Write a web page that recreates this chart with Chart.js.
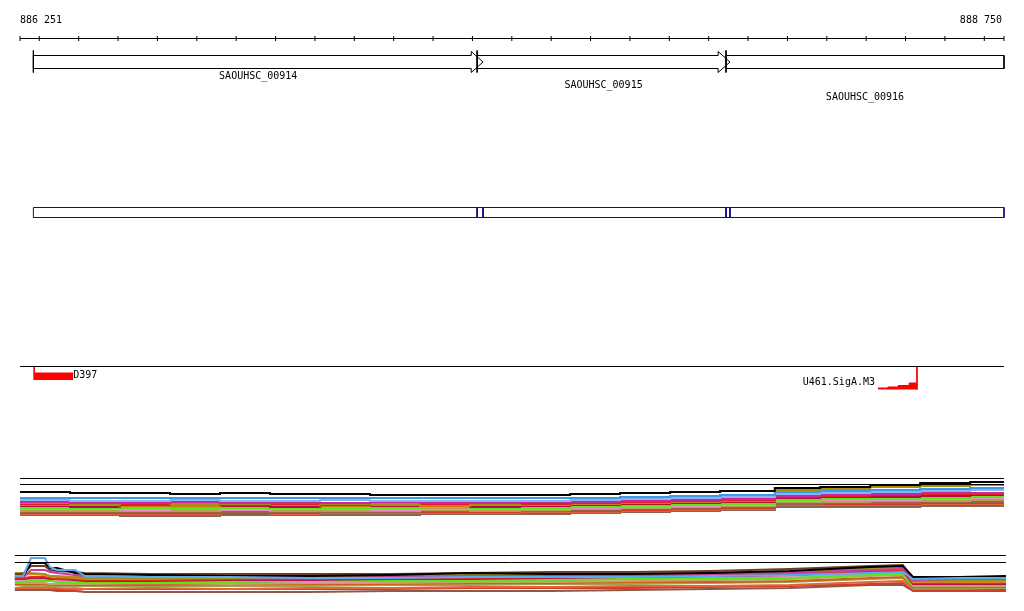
<!DOCTYPE html>
<html>
<head>
<meta charset="utf-8">
<title>SAOUHSC_00914 - SAOUHSC_00916</title>
<script src="https://cdn.jsdelivr.net/npm/chart.js@4.4.1/dist/chart.umd.min.js"></script>
<style>
  html, body { margin: 0; padding: 0; background: #fff; }
  #wrap { width: 1024px; height: 611px; }
</style>
</head>
<body>
<div id="wrap"><canvas id="browser" width="1024" height="611"></canvas></div>
<script>
// window shown on the ruler (bp)
const viewStart = 886251;
const viewEnd = 888750;
const rulerStep = 100;

// genes
const geneNames = ['SAOUHSC_00914', 'SAOUHSC_00915', 'SAOUHSC_00916'];
const geneStarts = [886285, 887412, 888044];
const geneEnds = [887427, 888054, 888750];
const geneLabelRows = [76.5, 85, 97.5];

// features on the third track
const d397Start = 886287;
const d397End = 886386;
const u461Pos = [888430, 888455, 888481, 888509, 888529];
const u461Signal = [1.5, 2.5, 4, 6.5, 6.5];

// panel 1 : positions (bp) and one row of values per sample
const panel1Pos = [886251, 886378, 886505, 886632, 886759, 886886, 887013,
  887140, 887267, 887394, 887521, 887648, 887775, 887902, 888029, 888168,
  888283, 888410, 888537, 888664, 888750];
const panel1Colors = ['#000000', '#3c9be0', '#8cb0f0', '#c8289c', '#a0900a',
  '#e02020', '#d07a20', '#b01040', '#5ae61e', '#c89650', '#f08cc0', '#c8641e',
  '#9040c0', '#b4a050', '#8c8c14', '#a06048', '#d23c28', '#e0603c', '#8c6450'];
const panel1Values = [
  [28, 27, 27, 26, 27, 26, 26, 25, 25, 25, 25, 26, 27, 28, 29, 32, 33, 35, 37, 38, 38],
  [22, 22, 22, 22, 22, 22, 22, 22, 22, 22, 22, 22, 23, 24, 25, 28, 29, 30, 31, 32, 32],
  [20, 19, 19, 20, 19, 19, 20, 19, 19, 19, 19, 20, 21, 22, 23, 26, 27, 28, 29, 30, 30],
  [18, 17, 17, 18, 17, 17, 17, 18, 17, 17, 18, 18, 19, 20, 21, 24, 25, 26, 27, 27, 27],
  [17, 16, 17, 16, 16, 17, 16, 16, 17, 16, 18, 19, 21, 23, 24, 30, 31, 33, 34, 35, 35],
  [16, 16, 15, 16, 15, 16, 15, 16, 16, 16, 16, 17, 18, 19, 20, 23, 24, 25, 26, 26, 26],
  [15, 15, 14, 14, 15, 15, 14, 15, 14, 15, 15, 16, 17, 18, 19, 25, 26, 27, 29, 30, 30],
  [14, 13, 14, 14, 14, 13, 14, 14, 14, 13, 14, 15, 16, 17, 18, 22, 23, 23, 24, 25, 25],
  [12, 12, 12, 11, 12, 12, 12, 12, 13, 12, 12, 13, 14, 15, 16, 20, 21, 21, 22, 23, 23],
  [13, 13, 12, 13, 12, 13, 12, 13, 12, 13, 13, 14, 15, 16, 17, 21, 22, 23, 24, 25, 25],
  [11, 11, 10, 11, 10, 11, 11, 10, 11, 11, 11, 12, 13, 14, 15, 19, 20, 20, 21, 22, 22],
  [13, 12, 13, 12, 13, 12, 13, 12, 13, 12, 13, 13, 14, 15, 16, 20, 21, 22, 23, 24, 24],
  [15, 14, 14, 15, 14, 14, 13, 14, 14, 15, 14, 15, 16, 17, 18, 22, 22, 23, 24, 24, 24],
  [9, 9, 9, 9, 10, 9, 9, 9, 10, 9, 10, 11, 12, 13, 14, 18, 18, 19, 19, 20, 20],
  [10, 10, 11, 10, 10, 10, 11, 10, 10, 10, 11, 11, 12, 13, 14, 18, 19, 19, 20, 21, 21],
  [8, 8, 8, 8, 8, 8, 8, 8, 9, 9, 9, 10, 11, 12, 13, 16, 17, 17, 18, 18, 18],
  [7, 7, 7, 7, 7, 7, 8, 8, 8, 8, 9, 9, 10, 11, 12, 16, 16, 16, 17, 17, 17],
  [6, 6, 6, 6, 7, 6, 7, 7, 7, 7, 8, 8, 9, 10, 11, 15, 15, 15, 16, 16, 16],
  [5, 5, 4, 4, 5, 5, 5, 5, 6, 6, 6, 7, 8, 9, 10, 13, 13, 13, 14, 14, 14],
];
const panel1Guides = [41.5, 35.5];

// panel 2
const panel2Pos = [886238, 886259, 886279, 886314, 886327, 886345, 886391,
  886416, 886581, 886784, 886987, 887191, 887394, 887597, 887800, 888003,
  888206, 888410, 888493, 888519, 888638, 888755];
const panel2Colors = ['#5aaaf0', '#000000', '#6e3c28', '#c83ca0', '#a09614',
  '#d2822a', '#e62820', '#b41446', '#5ae61e', '#f08cc8', '#8cb4f0', '#c8a064',
  '#8c3cb4', '#c86414', '#a0a050', '#e4643c', '#d03c28', '#8c5a46'];
const panel2Values = [
  [24, 24, 42, 42, 33, 30, 30, 24, 23, 23, 22, 22, 23, 23, 23, 24, 25, 27, 28, 21, 22, 22],
  [24, 24, 37, 37, 32, 32, 27, 26, 25, 24, 24, 25, 27, 26, 26, 27, 29, 33, 34, 23, 23, 24],
  [26, 26, 34, 34, 30, 29, 28, 27, 26, 26, 26, 26, 27, 28, 28, 29, 31, 34, 35, 22, 23, 23],
  [23, 23, 30, 30, 28, 27, 25, 24, 23, 23, 22, 23, 24, 24, 25, 26, 27, 30, 31, 20, 21, 21],
  [27, 27, 27, 26, 24, 23, 22, 21, 21, 22, 23, 24, 25, 26, 26, 27, 28, 32, 33, 19, 19, 20],
  [26, 25, 26, 25, 24, 24, 23, 23, 22, 22, 23, 24, 24, 25, 26, 27, 28, 31, 32, 18, 18, 18],
  [22, 22, 23, 23, 22, 21, 21, 20, 20, 21, 21, 22, 22, 23, 24, 25, 26, 29, 30, 17, 17, 17],
  [21, 21, 22, 22, 21, 21, 20, 19, 19, 20, 20, 21, 21, 22, 23, 24, 25, 28, 29, 16, 16, 16],
  [18, 18, 19, 19, 19, 18, 18, 18, 18, 18, 19, 19, 19, 20, 21, 22, 22, 25, 26, 15, 15, 15],
  [20, 20, 21, 21, 20, 19, 19, 19, 19, 19, 18, 19, 20, 21, 22, 23, 24, 27, 28, 16, 15, 15],
  [19, 19, 20, 20, 20, 20, 19, 18, 18, 19, 19, 20, 20, 21, 22, 22, 23, 26, 27, 17, 16, 16],
  [17, 17, 17, 17, 16, 16, 16, 16, 17, 16, 17, 17, 18, 18, 19, 20, 21, 24, 25, 14, 14, 14],
  [21, 21, 22, 21, 20, 20, 19, 18, 18, 18, 18, 19, 19, 20, 21, 22, 23, 26, 27, 18, 17, 17],
  [16, 16, 16, 16, 15, 15, 15, 15, 15, 16, 16, 16, 17, 17, 18, 18, 19, 22, 23, 13, 13, 13],
  [15, 14, 14, 14, 14, 14, 13, 14, 14, 14, 14, 15, 15, 16, 16, 17, 18, 21, 22, 12, 12, 12],
  [12, 12, 12, 12, 12, 12, 11, 11, 12, 11, 12, 12, 13, 13, 14, 14, 15, 18, 19, 11, 11, 12],
  [11, 11, 11, 11, 11, 10, 10, 11, 11, 11, 11, 11, 12, 12, 12, 13, 14, 16, 17, 10, 10, 10],
  [10, 10, 10, 10, 10, 9, 9, 8, 8, 8, 8, 9, 9, 9, 10, 11, 12, 15, 15, 9, 9, 9],
];
const panel2Guides = [44.5, 37.5];

// layout (rows in pixels from the top, margins in pixels)
const W = 1024;
const H = 611;
const rulerMargin = 20;
const rulerRow = 38.5;
const rulerLabelRow = 20.5;
const geneBody = [55.5, 68.5];
const geneHead = [51.5, 72.5];
const geneMarker = [50.5, 72.5];
const arrowBp = 30;
const segRow = [207.5, 217.5];
const segColor = '#0a0a96';
const featureLine = 366.5;
const d397Row = [373, 380];
const u461Base = 389.5;
const panel1Base = 520;
const panel2Base = 600;

const bpPerPx = (viewEnd - viewStart) / (W - 2 * rulerMargin);
const xMin = viewStart - rulerMargin * bpPerPx;
const xMax = viewEnd + rulerMargin * bpPerPx;

function fmtPos(n) {
  return String(n).replace(/\B(?=(\d{3})+(?!\d))/g, ' ');
}

function lineSet(points, color, axis, width, extra) {
  return Object.assign({
    type: 'line',
    data: points,
    borderColor: color,
    backgroundColor: color,
    borderWidth: width || 1,
    pointRadius: 0,
    fill: false,
    tension: 0,
    yAxisID: axis || 'y',
  }, extra || {});
}

function rect(x0, x1, y0, y1) {
  return [{x: x0, y: y0}, {x: x1, y: y0}, {x: x1, y: y1}, {x: x0, y: y1}, {x: x0, y: y0}];
}

function geneOutline(s, e) {
  if (e >= viewEnd) {
    // runs past the window: no arrow head
    return rect(s, e, geneBody[0], geneBody[1]);
  }
  const hb = e - arrowBp;
  const mid = (geneHead[0] + geneHead[1]) / 2;
  return [
    {x: s, y: geneBody[0]}, {x: hb, y: geneBody[0]}, {x: hb, y: geneHead[0]},
    {x: e, y: mid}, {x: hb, y: geneHead[1]}, {x: hb, y: geneBody[1]},
    {x: s, y: geneBody[1]}, {x: s, y: geneBody[0]},
  ];
}

const datasets = [];

// ruler
const rulerTicks = [viewStart];
for (let p = Math.ceil(viewStart / rulerStep) * rulerStep; p < viewEnd; p += rulerStep) {
  rulerTicks.push(p);
}
rulerTicks.push(viewEnd);
datasets.push(lineSet([{x: viewStart, y: rulerRow}, {x: viewEnd, y: rulerRow}], '#000'));
datasets.push(lineSet(rulerTicks.map((p) => ({x: p, y: rulerRow})), '#000', 'y', 1, {
  showLine: false,
  pointRadius: 2.5,
  pointStyle: 'line',
  pointRotation: 90,
  pointBorderColor: '#000',
  pointBorderWidth: 1,
}));

// genes
for (let i = 0; i < geneNames.length; i++) {
  datasets.push(lineSet(geneOutline(geneStarts[i], geneEnds[i]), '#000'));
  datasets.push(lineSet([{x: geneStarts[i], y: geneMarker[0]},
    {x: geneStarts[i], y: geneMarker[1]}], '#000'));
}

// second track: segments between gene boundaries
const bounds = geneStarts.concat(geneEnds).sort((a, b) => a - b);
for (let i = 0; i < bounds.length - 1; i++) {
  datasets.push(lineSet(rect(bounds[i], bounds[i + 1], segRow[0], segRow[1]), segColor));
}

// third track
datasets.push(lineSet([{x: viewStart, y: featureLine}, {x: viewEnd, y: featureLine}], '#000'));
datasets.push(lineSet([{x: d397Start, y: featureLine}, {x: d397Start, y: d397Row[1]}], '#ff0000'));
datasets.push(lineSet([{x: d397Start, y: d397Row[0]}, {x: d397End, y: d397Row[0]}], '#ff0000', 'y', 1, {
  fill: {value: d397Row[1]},
}));
datasets.push(lineSet(u461Pos.map((p, i) => ({x: p, y: u461Base - u461Signal[i]})), '#ff0000', 'y', 1, {
  stepped: true,
  fill: {value: u461Base},
}));
datasets.push(lineSet([{x: u461Pos[u461Pos.length - 1], y: featureLine},
  {x: u461Pos[u461Pos.length - 1], y: u461Base}], '#ff0000'));

// panel guide lines
panel1Guides.forEach(function(g) {
  datasets.push(lineSet([{x: panel1Pos[0], y: g}, {x: panel1Pos[panel1Pos.length - 1], y: g}], '#000', 'p1'));
});
panel2Guides.forEach(function(g) {
  datasets.push(lineSet([{x: panel2Pos[0], y: g}, {x: panel2Pos[panel2Pos.length - 1], y: g}], '#000', 'p2'));
});

// samples
panel1Values.forEach(function(row, i) {
  datasets.push(lineSet(row.map((v, j) => ({x: panel1Pos[j], y: v})), panel1Colors[i], 'p1', 2, {stepped: true}));
});
panel2Values.forEach(function(row, i) {
  datasets.push(lineSet(row.map((v, j) => ({x: panel2Pos[j], y: v})), panel2Colors[i], 'p2', 2));
});

// texts
const textLabels = [
  {text: fmtPos(viewStart), x: viewStart, y: rulerLabelRow, align: 'left', dx: 0},
  {text: fmtPos(viewEnd), x: viewEnd, y: rulerLabelRow, align: 'right', dx: -2},
  {text: 'D397', x: d397End, y: 375.5, align: 'left', dx: 0},
  {text: 'U461.SigA.M3', x: u461Pos[0], y: 382.5, align: 'right', dx: -3},
];
for (let i = 0; i < geneNames.length; i++) {
  textLabels.push({text: geneNames[i], x: (geneStarts[i] + geneEnds[i]) / 2,
    y: geneLabelRows[i], align: 'center', dx: 0});
}

const labelPlugin = {
  id: 'trackLabels',
  afterDatasetsDraw(chart) {
    const ctx = chart.ctx;
    const xs = chart.scales.x;
    const ys = chart.scales.y;
    ctx.save();
    ctx.font = '10px "DejaVu Sans Mono", monospace';
    ctx.fillStyle = '#000';
    ctx.textBaseline = 'middle';
    textLabels.forEach(function(l) {
      ctx.textAlign = l.align;
      ctx.fillText(l.text, xs.getPixelForValue(l.x) + l.dx, ys.getPixelForValue(l.y));
    });
    ctx.restore();
  },
};

new Chart(document.getElementById('browser'), {
  type: 'line',
  data: {datasets: datasets},
  options: {
    responsive: false,
    animation: false,
    devicePixelRatio: 1,
    layout: {padding: 0, autoPadding: false},
    plugins: {legend: {display: false}, tooltip: {enabled: false}},
    scales: {
      x: {type: 'linear', min: xMin, max: xMax, display: false},
      y: {type: 'linear', reverse: true, min: 0, max: H, display: false},
      p1: {type: 'linear', position: 'left', min: panel1Base - H, max: panel1Base, display: false},
      p2: {type: 'linear', position: 'left', min: panel2Base - H, max: panel2Base, display: false},
    },
  },
  plugins: [labelPlugin],
});
</script>
</body>
</html>
